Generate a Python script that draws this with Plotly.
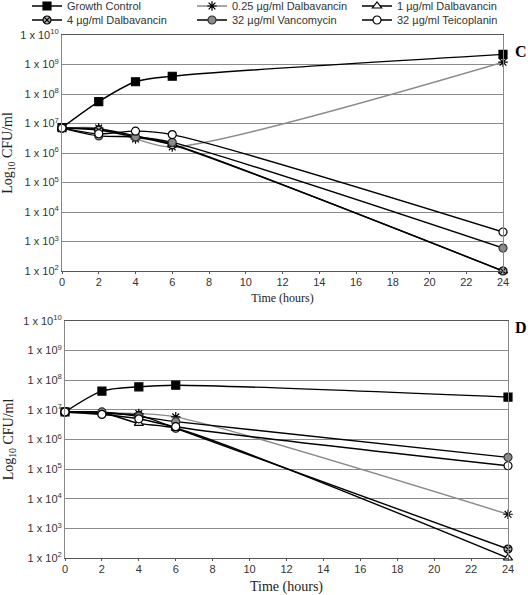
import plotly.graph_objects as go

time_h = [0, 2, 4, 6, 24]
series_names = ["Growth Control", "0.25 µg/ml Dalbavancin", "1 µg/ml Dalbavancin",
                "4 µg/ml Dalbavancin", "32 µg/ml Vancomycin", "32 µg/ml Teicoplanin"]

# Panel C
gc_C = [7.2e6, 5.5e7, 2.6e8, 4.0e8, 2.2e9]
d025_C = [7.0e6, 7.0e6, 3.0e6, 1.6e6, 1.2e9]
d1_C = [7.0e6, 6.5e6, 3.8e6, 2.0e6, 1.0e2]
d4_C = [7.0e6, 6.0e6, 3.5e6, 1.9e6, 1.0e2]
van_C = [7.0e6, 3.8e6, 3.5e6, 2.3e6, 6.0e2]
tei_C = [7.0e6, 4.5e6, 5.5e6, 4.2e6, 2.1e3]

# Panel D
gc_D = [8.5e6, 4.3e7, 6.0e7, 6.8e7, 2.7e7]
d025_D = [8.5e6, 8.0e6, 7.5e6, 5.8e6, 3.0e3]
d1_D = [8.5e6, 8.0e6, 3.5e6, 2.4e6, 1.0e2]
d4_D = [8.5e6, 7.5e6, 6.5e6, 2.4e6, 2.0e2]
van_D = [8.5e6, 8.5e6, 6.0e6, 4.0e6, 2.5e5]
tei_D = [8.5e6, 7.0e6, 5.0e6, 2.7e6, 1.3e5]

y_tickvals = [10 ** k for k in range(2, 11)]
y_ticktext = [f"1 x 10<sup>{k}</sup>" for k in range(2, 11)]
x_ticks = list(range(0, 25, 2))

styles = [
    dict(line_color="black", symbol="square", fill="black", mline="black", size=8, legend="legend"),
    dict(line_color="#8a8a8a", symbol="asterisk-open", fill="black", mline="black", size=8, legend="legend"),
    dict(line_color="black", symbol="triangle-up", fill="white", mline="black", size=8, legend="legend"),
    dict(line_color="black", symbol="circle-x", fill="#b0b0b0", mline="black", size=8, legend="legend2"),
    dict(line_color="black", symbol="circle", fill="#8c8c8c", mline="#333333", size=8, legend="legend2"),
    dict(line_color="black", symbol="circle", fill="white", mline="black", size=8, legend="legend2"),
]

panels = [
    ("x", "y", [gc_C, d025_C, d1_C, d4_C, van_C, tei_C], True),
    ("x2", "y2", [gc_D, d025_D, d1_D, d4_D, van_D, tei_D], False),
]

fig = go.Figure()
for xa, ya, data, show in panels:
    for name, vals, st in zip(series_names, data, styles):
        fig.add_trace(go.Scatter(
            x=time_h, y=vals, name=name, xaxis=xa, yaxis=ya, legend=st["legend"],
            mode="lines+markers", showlegend=show, cliponaxis=False,
            line=dict(color=st["line_color"], width=1.4, shape="spline", smoothing=0.8),
            marker=dict(symbol=st["symbol"], size=st["size"], color=st["fill"],
                        line=dict(color=st["mline"], width=1.2)),
        ))

axis_font = dict(family="Liberation Sans, Arial", size=11, color="#333333")

def xaxis(domain, anchor, tsize, standoff):
    return dict(domain=domain, anchor=anchor, range=[0, 24], tickvals=x_ticks,
                showgrid=False, zeroline=False, showline=True, linecolor="#555555",
                linewidth=1, mirror=True, ticks="outside", ticklen=2, tickcolor="#555555",
                ticklabelstandoff=-1, automargin=False, tickfont=axis_font,
                title=dict(text="Time (hours)",
                           font=dict(family="Liberation Serif, Times New Roman", size=tsize, color="#222222"),
                           standoff=standoff))

def yaxis(domain, anchor):
    return dict(domain=domain, anchor=anchor, type="log", range=[2, 10],
                tickvals=y_tickvals, ticktext=y_ticktext, showgrid=True,
                gridcolor="#8a8a8a", gridwidth=1, zeroline=False, showline=True,
                linecolor="#888888", mirror=True, ticks="", tickfont=axis_font,
                automargin=False,
                title=dict(text="Log<sub>10</sub> CFU/ml",
                           font=dict(family="Liberation Serif, Times New Roman", size=14, color="#222222"),
                           standoff=6))

W, H = 528, 595

def legend(ypx):
    return dict(orientation="h", x=27 / W, y=1 - ypx / H, xref="container", yref="container",
                xanchor="left", yanchor="middle", entrywidth=120, entrywidthmode="pixels",
                font=axis_font, tracegroupgap=0, itemwidth=30, bgcolor="rgba(0,0,0,0)",
                borderwidth=0)

fig.update_layout(
    width=W, height=H,
    margin=dict(l=0, r=0, t=0, b=0, autoexpand=False),
    paper_bgcolor="white", plot_bgcolor="white",
    xaxis=xaxis([62 / W, 503 / W], "y", 12, 6),
    yaxis=yaxis([1 - 271 / H, 1 - 35 / H], "x"),
    xaxis2=xaxis([65 / W, 508 / W], "y2", 14, 7),
    yaxis2=yaxis([1 - 558 / H, 1 - 321 / H], "x2"),
    legend=legend(6),
    legend2=legend(20),
    annotations=[
        dict(text="<b>C</b>", x=521 / W, y=1 - 41 / H, xref="paper", yref="paper", xanchor="center",
             showarrow=False, font=dict(family="Liberation Serif, Times New Roman", size=16, color="black")),
        dict(text="<b>D</b>", x=521 / W, y=1 - 327 / H, xref="paper", yref="paper", xanchor="center",
             showarrow=False, font=dict(family="Liberation Serif, Times New Roman", size=16, color="black")),
    ],
)

fig.write_html("out.html", config={"displayModeBar": False},
               post_script="document.body.style.margin='0';")
